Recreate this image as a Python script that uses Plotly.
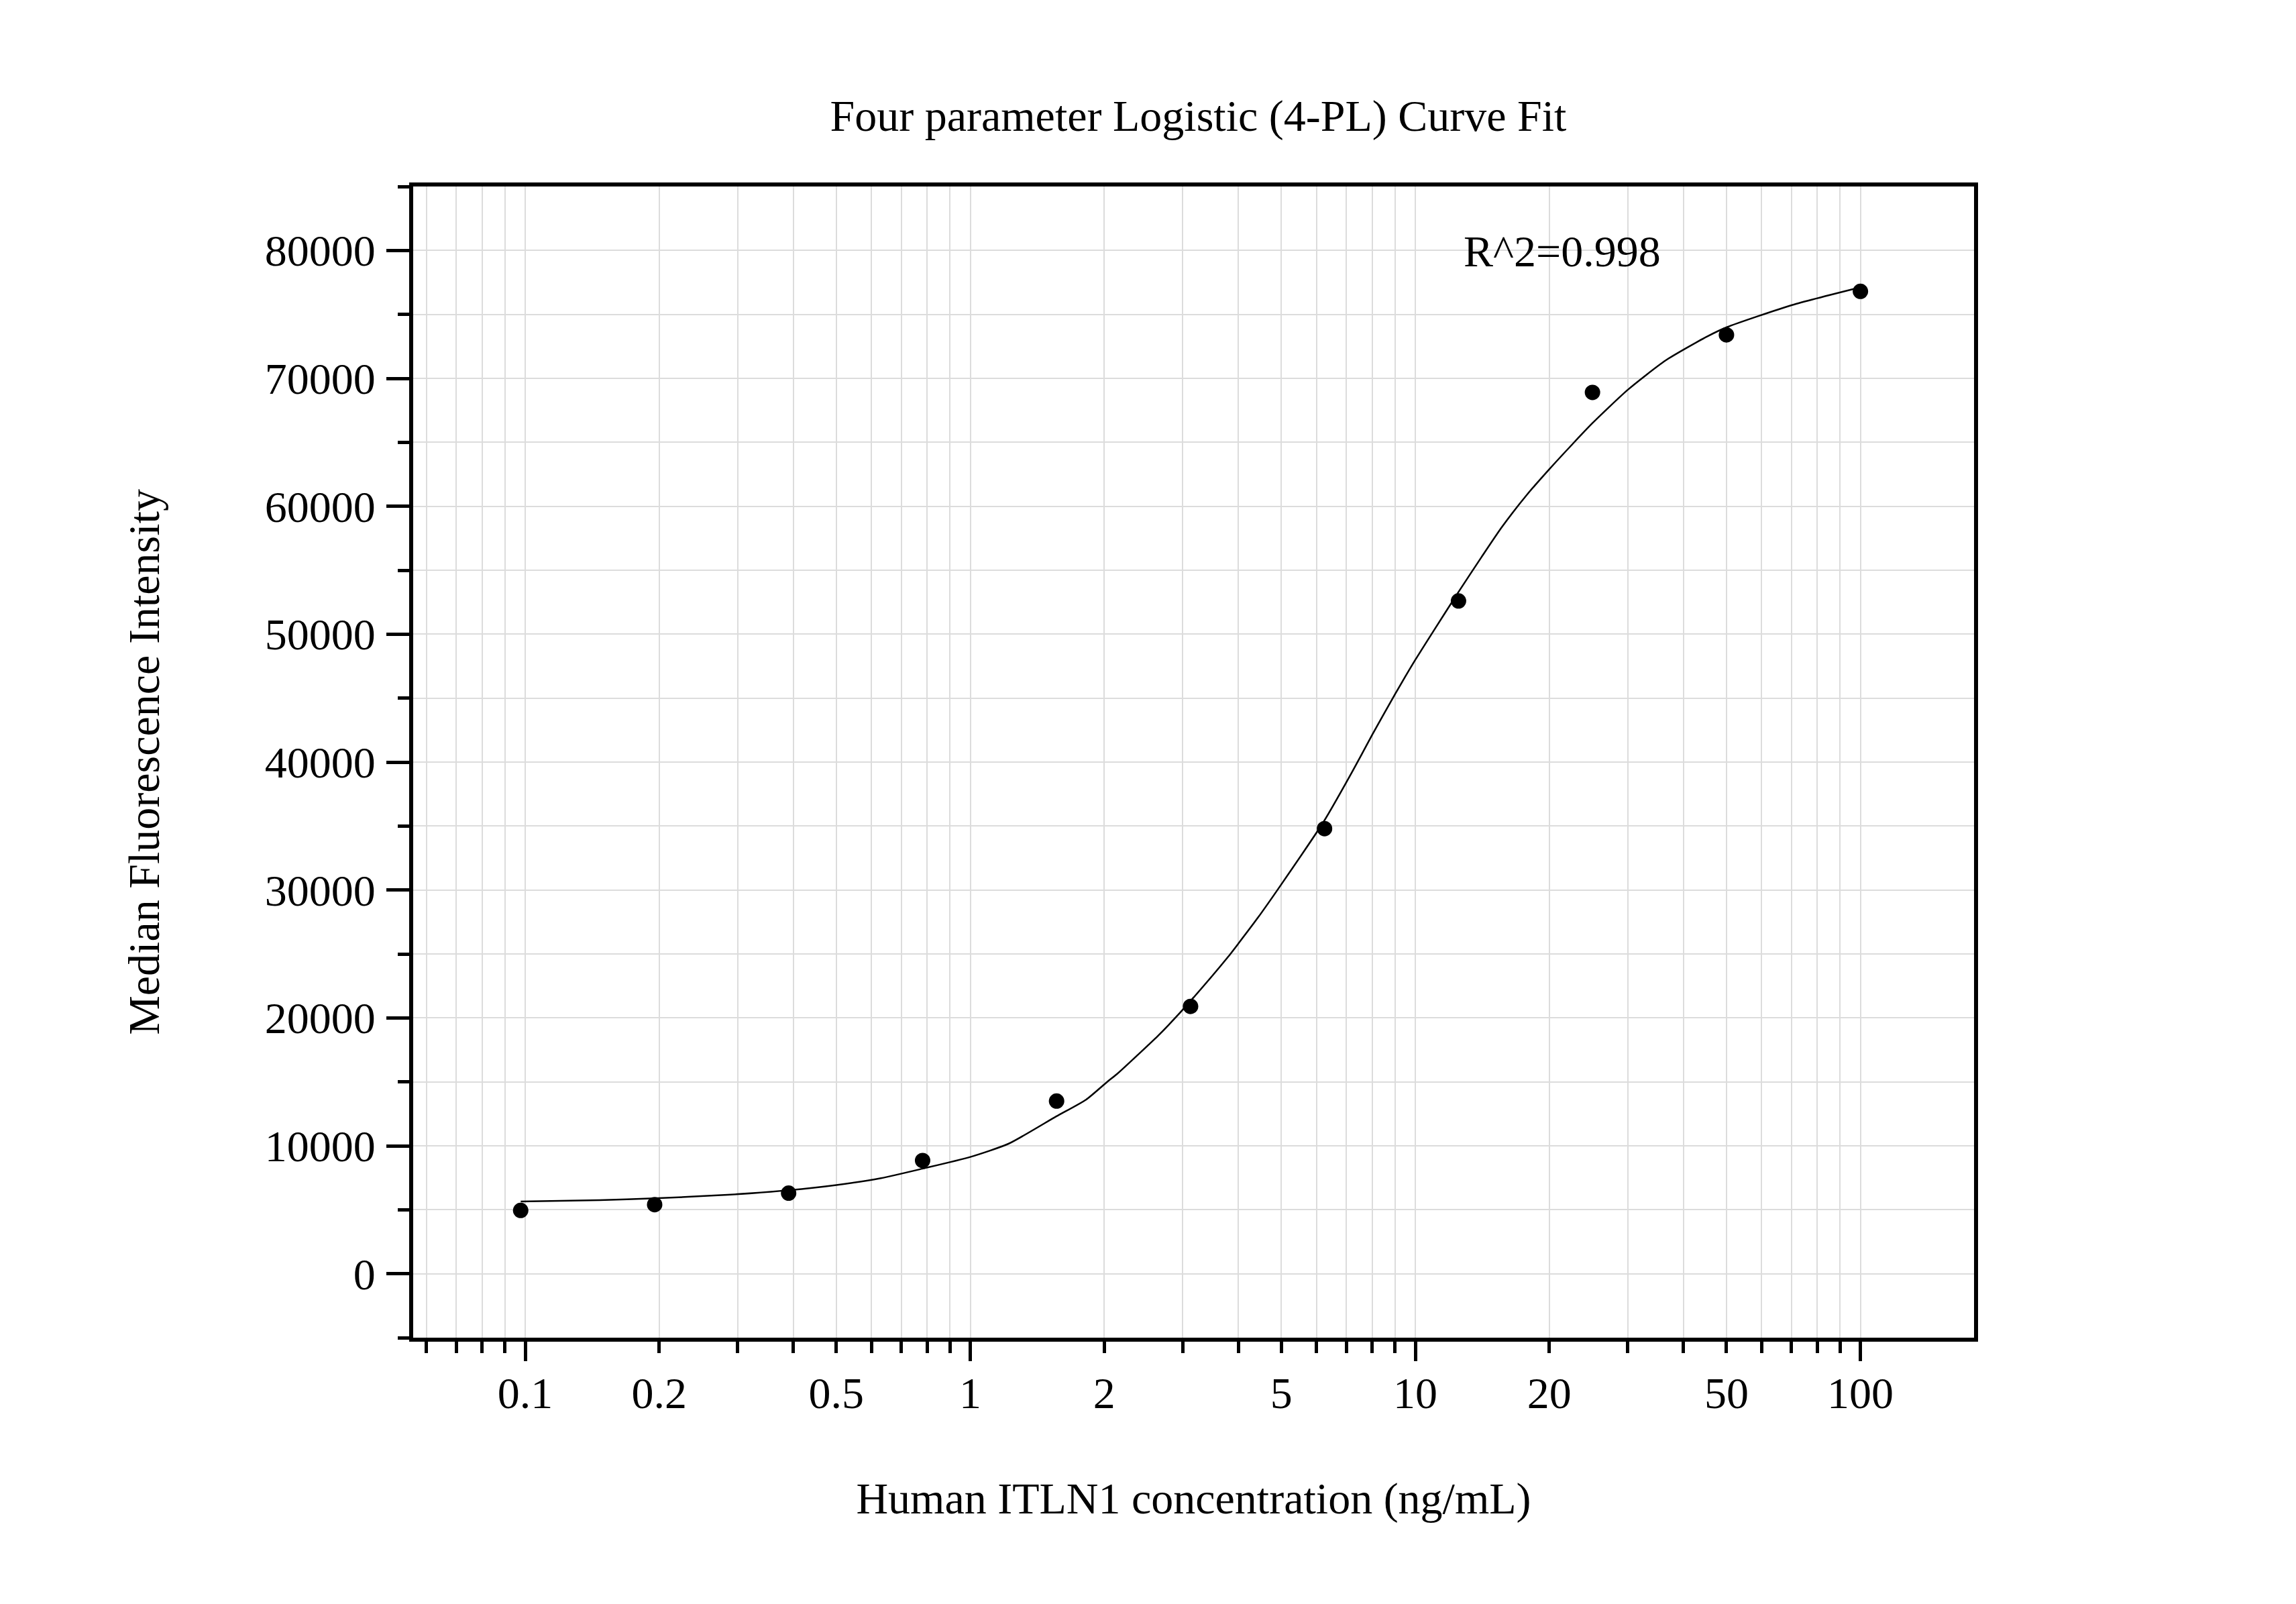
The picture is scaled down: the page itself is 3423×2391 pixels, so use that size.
import numpy as np
import plotly.graph_objects as go

# measured standards (ng/mL) and median fluorescence intensity
conc = [100, 50, 25, 12.5, 6.25, 3.125, 1.5625, 0.78125, 0.390625, 0.1953125, 0.09765625]
mfi = [76800, 73400, 68900, 52600, 34800, 20900, 13500, 8850, 6300, 5400, 4950]

# fitted 4-PL curve
fit_x = [0.0977, 0.147, 0.195, 0.285, 0.39, 0.5, 0.63, 0.78, 1.0, 1.22, 1.56, 1.82,
         2.03, 2.14, 2.64, 2.79, 3.12, 3.79, 4.0, 4.42, 5.0, 6.23, 7.21, 7.99, 9.0,
         10.0, 11.1, 12.5, 14.09, 15.65, 17.86, 20.0, 22.6, 25.0, 30.0, 36.5, 45.4,
         50.1, 70.2, 100.0]
fit_y = [5645, 5750, 5890, 6170, 6520, 6930, 7470, 8210, 9130, 10170, 12300, 13610,
         15000, 15640, 18600, 19450, 21300, 24750, 25800, 27800, 30450, 35370, 39230,
         42100, 45300, 48000, 50500, 53300, 56040, 58380, 60950, 62900, 64900, 66500,
         69100, 71400, 73300, 74000, 75730, 77120]

x_labels = [0.1, 0.2, 0.5, 1, 2, 5, 10, 20, 50, 100]
x_label_text = ["0.1", "0.2", "0.5", "1", "2", "5", "10", "20", "50", "100"]
x_decades = [0.1, 1, 10, 100]
x_minor = [k * 10.0 ** e for e in range(-2, 3) for k in range(1, 10)]
x_lim = (0.056, 180)
y_lim = (-5000, 85000)

FONT = "Liberation Serif, Times New Roman, serif"
GRID = "#dcdcdc"
x_range = [np.log10(x_lim[0]), np.log10(x_lim[1])]

fig = go.Figure()
fig.add_trace(go.Scatter(
    x=fit_x, y=fit_y, mode="lines", xaxis="x2",
    line=dict(color="black", width=2.5, shape="spline", smoothing=0.6),
    hoverinfo="skip",
))
fig.add_trace(go.Scatter(
    x=conc, y=mfi, mode="markers",
    marker=dict(color="black", size=23, line=dict(width=0)),
))

fig.add_annotation(
    text="R^2=0.998", xref="paper", yref="paper", x=0.672, y=0.9438,
    xanchor="left", yanchor="middle", showarrow=False,
    font=dict(family=FONT, size=66, color="black"),
)

fig.update_layout(
    width=3407, height=2375,
    margin=dict(l=608, r=472, t=270, b=389),
    paper_bgcolor="white", plot_bgcolor="white",
    showlegend=False,
    font=dict(family=FONT, size=66, color="black"),
    title=dict(
        text="Four parameter Logistic (4-PL) Curve Fit",
        x=0.503, xref="paper", xanchor="center",
        y=0.9309, yref="container", yanchor="middle",
        font=dict(family=FONT, size=66, color="black"),
    ),
    xaxis=dict(
        type="log", range=x_range,
        tickmode="array", tickvals=x_labels, ticktext=x_label_text,
        ticks="outside", ticklen=17, tickwidth=4.5, tickcolor="black",
        ticklabelstandoff=3,
        showgrid=True, gridcolor=GRID, gridwidth=2,
        minor=dict(tickmode="array", tickvals=x_minor, ticks="outside",
                   ticklen=17, tickwidth=4.5, tickcolor="black",
                   showgrid=True, gridcolor=GRID, gridwidth=2),
        showline=True, linecolor="black", linewidth=6, mirror=True,
        zeroline=False,
        title=dict(text="Human ITLN1 concentration (ng/mL)", standoff=100,
                   font=dict(family=FONT, size=66)),
    ),
    xaxis2=dict(
        type="log", range=x_range, overlaying="x", anchor="y", side="bottom",
        tickmode="array", tickvals=x_decades, showticklabels=False,
        ticks="outside", ticklen=34, tickwidth=4.5, tickcolor="black",
        showgrid=False, showline=False, zeroline=False,
    ),
    yaxis=dict(
        range=list(y_lim), tickmode="linear", tick0=0, dtick=10000,
        tickformat="d",
        ticks="outside", ticklen=34, tickwidth=4.5, tickcolor="black",
        ticklabelstandoff=3,
        showgrid=True, gridcolor=GRID, gridwidth=2,
        minor=dict(dtick=5000, ticks="outside", ticklen=17, tickwidth=4.5,
                   tickcolor="black", showgrid=True, gridcolor=GRID, gridwidth=2),
        showline=True, linecolor="black", linewidth=6, mirror=True,
        zeroline=False,
        title=dict(text="Median Fluorescence Intensity", standoff=138,
                   font=dict(family=FONT, size=66)),
    ),
)

fig.write_html("out.html")
